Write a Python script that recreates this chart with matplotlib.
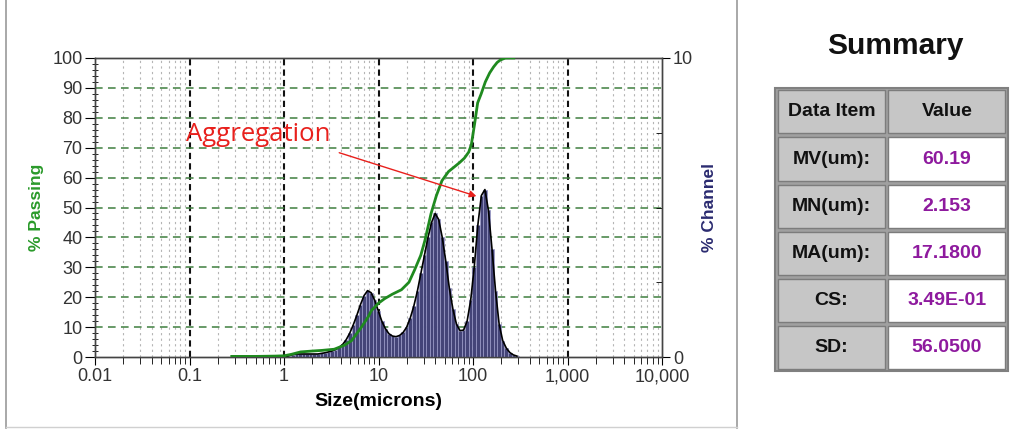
import numpy as np
import matplotlib.pyplot as plt
from matplotlib.patches import Rectangle

plt.rcParams['font.family'] = ['Liberation Sans', 'DejaVu Sans']

# channel upper edges (microns) and % channel for each channel
channel_edges = [1.000, 1.091, 1.189, 1.297, 1.414, 1.542, 1.682, 1.834, 2.000,
                 2.181, 2.378, 2.594, 2.828, 3.084, 3.364, 3.668, 4.000, 4.362,
                 4.757, 5.187, 5.657, 6.169, 6.727, 7.336, 8.000, 8.724, 9.514,
                 10.37, 11.31, 12.34, 13.45, 14.67, 16.00, 17.45, 19.03, 20.75,
                 22.63, 24.68, 26.91, 29.34, 32.00, 34.90, 38.05, 41.50, 45.25,
                 49.35, 53.82, 58.69, 64.00, 69.79, 76.11, 82.99, 90.51, 98.70,
                 107.6, 117.4, 128.0, 139.6, 152.2, 166.0, 181.0, 197.4, 215.3,
                 234.8, 256.0, 279.2, 304.4]
channel_pct = [0.0, 0.05, 0.08, 0.1, 0.1, 0.1, 0.1, 0.1, 0.1, 0.1, 0.12, 0.14,
               0.17, 0.2, 0.25, 0.32, 0.42, 0.58, 0.8, 1.08, 1.4, 1.75, 2.05,
               2.22, 2.15, 1.9, 1.55, 1.2, 0.95, 0.78, 0.7, 0.68, 0.72, 0.82,
               1.0, 1.3, 1.7, 2.2, 2.8, 3.4, 4.0, 4.5, 4.8, 4.6, 4.0, 3.2, 2.3,
               1.6, 1.1, 0.88, 0.9, 1.2, 1.9, 3.0, 4.4, 5.4, 5.6, 4.9, 3.6, 2.2,
               1.1, 0.55, 0.3, 0.15, 0.07, 0.03]

# cumulative % passing
pass_size = [0.28, 0.5, 0.8, 1.0, 1.2, 1.5, 2.0, 2.5, 3.4, 4.4, 5.2, 6.6, 7.8,
             8.4, 10, 11.6, 14, 17.5, 21, 24, 28, 31, 36, 41, 47, 55, 63, 72,
             81, 90, 96, 104, 112, 122, 135, 150, 165, 180, 194, 220, 270]
pass_pct = [0.2, 0.2, 0.3, 0.4, 0.9, 1.7, 2.0, 2.2, 2.6, 4.0, 5.5, 10, 13.5,
            15.5, 18, 19.5, 21, 22.5, 25, 29, 34, 39, 48, 54, 59, 62, 63.5, 65,
            66.5, 68.5, 71, 78, 85, 88, 92, 95, 97, 98.5, 99.3, 100, 100]

x_ticks = [0.01, 0.1, 1, 10, 100, 1000, 10000]
x_labels = ['0.01', '0.1', '1', '10', '100', '1,000', '10,000']

# summary table
table_header = ['Data Item', 'Value']
table_items = ['MV(um):', 'MN(um):', 'MA(um):', 'CS:', 'SD:']
table_values = ['60.19', '2.153', '17.1800', '3.49E-01', '56.0500']

fig = plt.figure(figsize=(10.13, 4.30), dpi=100)
ax = fig.add_axes([95 / 1013, 73 / 430, 567 / 1013, 299 / 430])
ax2 = ax.twinx()

ax.set_xscale('log')
ax.set_xlim(0.01, 10000)
ax.set_ylim(0, 100)
ax2.set_ylim(0, 10)

# grid lines
minor_x = [m * d for d in [0.01, 0.1, 1, 10, 100, 1000] for m in range(2, 10)]
for v in minor_x:
    ax.axvline(v, color='#b5b5b5', lw=0.8, ls=(0, (2, 3)), zorder=0)
for v in x_ticks[1:-1]:
    ax.axvline(v, color='#111111', lw=1.5, ls=(0, (3, 2)), zorder=0.5)
for v in range(10, 100, 10):
    ax.axhline(v, color='#3f7f3f', lw=1.1, ls=(0, (5, 3.5)), zorder=0.6)

# channel bars
lefts = channel_edges[:-1]
widths = np.diff(channel_edges)
ax2.bar(lefts, channel_pct, width=widths, align='edge', color='#444478',
        edgecolor='#9a9ac8', linewidth=0.5, zorder=2)
centers = np.sqrt(np.array(channel_edges[:-1]) * np.array(channel_edges[1:]))
ax2.plot(centers, channel_pct, color='black', lw=1.2, zorder=3)

# passing curve (in left-axis units, drawn above bars)
ax2.plot(pass_size, pass_pct, color='#1f8a1f', lw=2, zorder=4,
         transform=ax.transData)

# annotation
ax2.annotate('', xy=(116, 53.5), xytext=(3.6, 68.6),
             xycoords=ax.transData, textcoords=ax.transData,
             arrowprops=dict(arrowstyle='-|>', color='#e8201c', lw=1,
                             mutation_scale=10), zorder=5)
ax2.text(0.54, 74.5, 'Aggregation', color='#e8201c', fontsize=18.5,
         family=['Open Sans', 'DejaVu Sans'], ha='center', va='center',
         transform=ax.transData, zorder=5)

# ticks
ax.set_xticks(x_ticks)
ax.set_xticklabels(x_labels)
ax.set_xticks(minor_x, minor=True)
ax.xaxis.set_minor_formatter(plt.NullFormatter())
ax.set_yticks(range(0, 101, 10))
ax.set_yticks(range(0, 101, 2), minor=True)
ax.tick_params(axis='x', which='major', direction='out', length=6,
               labelsize=13, labelcolor='#333333', pad=2)
ax.tick_params(axis='x', which='minor', direction='out', length=5)
ax.tick_params(axis='y', which='major', direction='out', length=7,
               labelsize=13, labelcolor='#333333', pad=2)
ax.tick_params(axis='y', which='minor', direction='inout', length=4)

ax2.set_yticks([0, 10])
ax2.set_yticks([2.5, 5, 7.5], minor=True)
ax2.tick_params(axis='y', which='major', direction='out', length=6,
                labelsize=13, labelcolor='#333333', pad=2)
ax2.tick_params(axis='y', which='minor', direction='in', length=4)

for a in (ax, ax2):
    for s in a.spines.values():
        s.set_color('#444444')
        s.set_linewidth(1)

ax.set_xlabel('Size(microns)', fontsize=14, fontweight='bold', labelpad=6)
ax.set_ylabel('% Passing', fontsize=12.5, fontweight='bold', color='#2a9a2a',
              labelpad=6)
ax2.set_ylabel('% Channel', fontsize=12.5, fontweight='bold', color='#2b2b70',
               labelpad=6)

# overlay in pixel coordinates for panel border and summary table
ov = fig.add_axes([0, 0, 1, 1], zorder=-1)
ov.set_xlim(0, 1013)
ov.set_ylim(430, 0)
ov.axis('off')
ov.plot([6, 6], [0, 428], color='#9a9a9a', lw=1.2)
ov.plot([737, 737], [0, 428], color='#9a9a9a', lw=1.2)
ov.plot([6, 737], [427, 427], color='#d0d0d0', lw=1)

tab = fig.add_axes([0, 0, 1, 1], zorder=3)
tab.set_xlim(0, 1013)
tab.set_ylim(430, 0)
tab.axis('off')
tab.patch.set_visible(False)

tab.text(895, 46, 'Summary', fontsize=21.5, fontweight='bold', ha='center',
         va='center', color='#111111')

x0, xm, x1 = 775, 886, 1008
row_edges = [88, 135, 183, 230, 277, 324, 371]
tab.add_patch(Rectangle((x0, row_edges[0]), x1 - x0, row_edges[-1] - row_edges[0],
                        facecolor='#a0a0a0', edgecolor='#808080', lw=1.5))
for i in range(len(row_edges) - 1):
    top, bot = row_edges[i] + 2, row_edges[i + 1] - 2
    yc = (row_edges[i] + row_edges[i + 1]) / 2
    for (cx0, cx1) in [(x0 + 3, xm - 1), (xm + 2, x1 - 3)]:
        face = '#c6c6c6'
        if i > 0 and cx0 > xm:
            face = 'white'
        tab.add_patch(Rectangle((cx0, top), cx1 - cx0, bot - top,
                                facecolor=face, edgecolor='#7c7c7c', lw=1))
    if i == 0:
        left_txt, right_txt, rc = table_header[0], table_header[1], '#111111'
    else:
        left_txt, right_txt, rc = table_items[i - 1], table_values[i - 1], '#8e1a9e'
    tab.text((x0 + xm) / 2 + 1, yc, left_txt, fontsize=14, fontweight='bold',
             ha='center', va='center', color='#111111')
    tab.text((xm + x1) / 2, yc, right_txt, fontsize=14, fontweight='bold',
             ha='center', va='center', color=rc)

fig.savefig('out.png', dpi=100)
